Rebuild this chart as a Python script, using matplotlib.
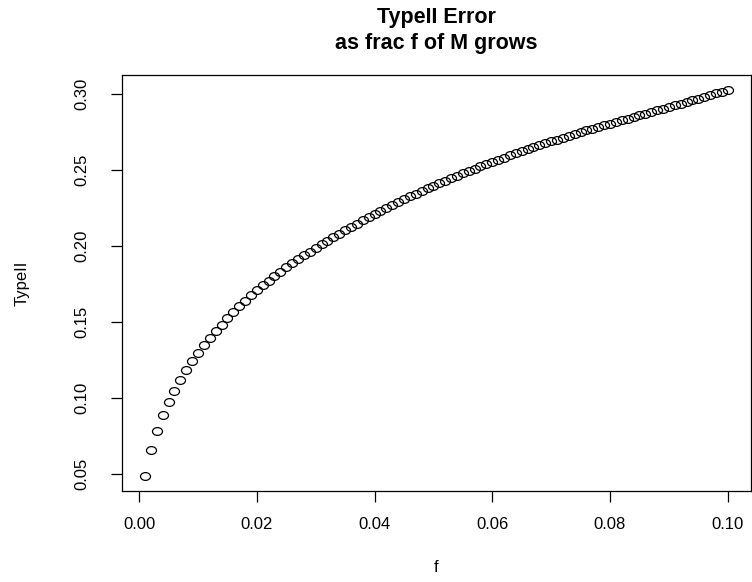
import matplotlib
matplotlib.use("Agg")
import matplotlib.pyplot as plt
from matplotlib.path import Path
from matplotlib.transforms import Affine2D

plt.rcParams['font.family'] = ['Liberation Sans', 'DejaVu Sans']

# fraction f of M, in steps of 0.001
f = [i / 1000 for i in range(1, 101)]

# type II error for each f
typeII = [
    0.0490, 0.0660, 0.0785, 0.0886, 0.0972, 0.1049, 0.1118, 0.1182, 0.1241, 0.1296,
    0.1348, 0.1394, 0.1439, 0.1483, 0.1525, 0.1565, 0.1603, 0.1640, 0.1676, 0.1711,
    0.1742, 0.1772, 0.1801, 0.1830, 0.1858, 0.1885, 0.1911, 0.1937, 0.1962, 0.1987,
    0.2011, 0.2035, 0.2058, 0.2081, 0.2103, 0.2125, 0.2147, 0.2168, 0.2189, 0.2210,
    0.2230, 0.2250, 0.2269, 0.2288, 0.2307, 0.2325, 0.2343, 0.2361, 0.2378, 0.2395,
    0.2412, 0.2429, 0.2445, 0.2461, 0.2477, 0.2493, 0.2508, 0.2523, 0.2538, 0.2553,
    0.2567, 0.2581, 0.2595, 0.2609, 0.2622, 0.2635, 0.2648, 0.2661, 0.2674, 0.2687,
    0.2699, 0.2711, 0.2723, 0.2735, 0.2747, 0.2759, 0.2771, 0.2782, 0.2793, 0.2804,
    0.2815, 0.2826, 0.2837, 0.2848, 0.2859, 0.2870, 0.2881, 0.2892, 0.2903, 0.2914,
    0.2925, 0.2936, 0.2947, 0.2958, 0.2969, 0.2980, 0.2991, 0.3002, 0.3013, 0.3024,
]

xticks = [0.00, 0.02, 0.04, 0.06, 0.08, 0.10]
yticks = [0.05, 0.10, 0.15, 0.20, 0.25, 0.30]

# slightly flattened open circle
oval = Path.unit_circle().transformed(Affine2D().scale(1, 0.78))


def main():
    fig = plt.figure(figsize=(7.52, 5.82), dpi=100)
    ax = fig.add_axes([0.1618, 0.1564, 0.8369, 0.7152])

    ax.plot(f, typeII, ls='none', marker=oval, mfc='none', mec='black',
            ms=7.2, mew=0.9)

    # R-style 4% padding around the data range
    xr = max(f) - min(f)
    yr = max(typeII) - min(typeII)
    ax.set_xlim(min(f) - 0.04 * xr, max(f) + 0.04 * xr)
    ax.set_ylim(min(typeII) - 0.04 * yr, max(typeII) + 0.04 * yr)

    ax.set_xticks(xticks)
    ax.set_xticklabels([f"{t:.2f}" for t in xticks])
    ax.set_yticks(yticks)
    ax.set_yticklabels([f"{t:.2f}" for t in yticks], rotation=90, va='center')
    ax.tick_params(direction='out', length=8, width=0.9, labelsize=12)
    ax.tick_params(axis='x', pad=11)
    ax.tick_params(axis='y', pad=15)
    for s in ax.spines.values():
        s.set_linewidth(0.9)

    fig.text(0.58, 1 - 17 / 582, "TypeII Error", ha='center', va='center',
             fontsize=15.5, fontweight='bold')
    fig.text(0.58, 1 - 44 / 582, "as frac f of M grows", ha='center', va='center',
             fontsize=15.5, fontweight='bold')
    fig.text(22 / 752, 1 - 283 / 582, "TypeII", rotation=90, ha='center',
             va='center', fontsize=12)
    fig.text(0.58, 1 - 568 / 582, "f", ha='center', va='center', fontsize=12)

    fig.savefig("out.png", dpi=100)


if __name__ == '__main__':
    main()
